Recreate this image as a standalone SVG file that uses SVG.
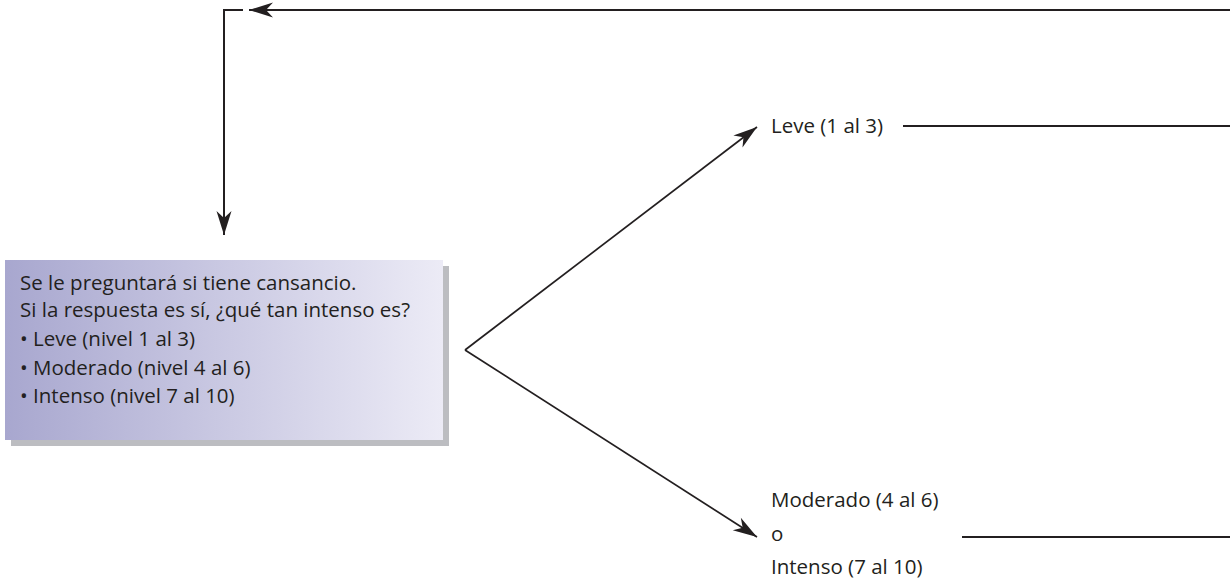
<svg xmlns="http://www.w3.org/2000/svg" width="1230" height="581" viewBox="0 0 1230 581">
  <defs>
    <linearGradient id="boxFill" x1="0" y1="0" x2="1" y2="0">
      <stop offset="0" stop-color="#a8a7cf"/>
      <stop offset="1" stop-color="#ecebf6"/>
    </linearGradient>
    <marker id="arrow" markerUnits="userSpaceOnUse" markerWidth="30" markerHeight="20" viewBox="-26 -10 30 20" refX="0" refY="0" orient="auto">
      <path d="M0,0 L-24,-7.5 L-17,0 L-24,7.5 Z" fill="#231f20"/>
    </marker>
  </defs>
  <style>
    .txt { font-family: "Open Sans", "Liberation Sans", sans-serif; font-size: 20.5px; fill: #231f20; }
    .line { fill: none; stroke: #231f20; stroke-width: 2; }
    .diag { fill: none; stroke: #231f20; stroke-width: 1.7; }
  </style>

  <rect width="1230" height="581" fill="#ffffff"/>

  <g id="connectors">
    <!-- return path along the top -->
    <line class="line" x1="1230" y1="10" x2="249" y2="10" marker-end="url(#arrow)"/>
    <polyline class="line" points="243,10 224,10 224,235" marker-end="url(#arrow)"/>
    <!-- branches from the question box -->
    <line class="diag" x1="465" y1="350" x2="757" y2="127" marker-end="url(#arrow)"/>
    <line class="diag" x1="465" y1="350" x2="757" y2="537" marker-end="url(#arrow)"/>
    <!-- outgoing lines on the right -->
    <line class="line" x1="903" y1="126" x2="1230" y2="126"/>
    <line class="line" x1="962" y1="537" x2="1230" y2="537"/>
  </g>

  <g id="question">
    <rect x="11" y="266" width="438" height="180" fill="#bcbdc1"/>
    <rect x="5" y="260" width="438" height="180" fill="url(#boxFill)"/>
    <text class="txt" x="20" y="290">Se le preguntará si tiene cansancio.</text>
    <text class="txt" x="20" y="317">Si la respuesta es sí, ¿qué tan intenso es?</text>
    <text class="txt" x="20" y="346">• Leve (nivel 1 al 3)</text>
    <text class="txt" x="20" y="375">• Moderado (nivel 4 al 6)</text>
    <text class="txt" x="20" y="403">• Intenso (nivel 7 al 10)</text>
  </g>

  <g id="leve">
    <text class="txt" x="771" y="133">Leve (1 al 3)</text>
  </g>

  <g id="moderado-intenso">
    <text class="txt" x="771" y="507">Moderado (4 al 6)</text>
    <text class="txt" x="771" y="541">o</text>
    <text class="txt" x="771" y="574">Intenso (7 al 10)</text>
  </g>
</svg>
